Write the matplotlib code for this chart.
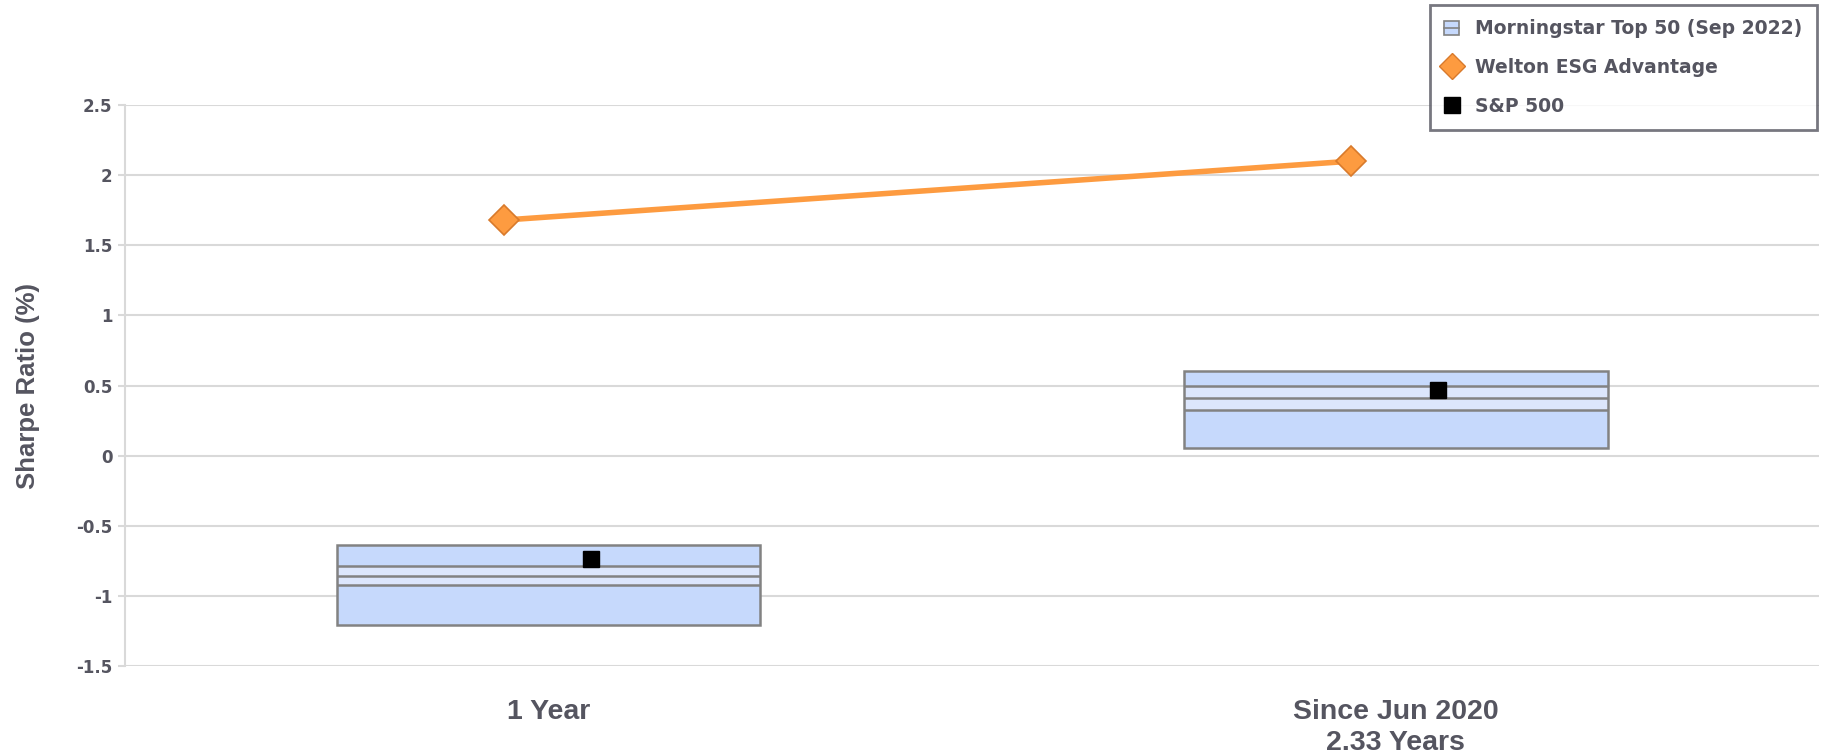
import matplotlib.pyplot as plt
from matplotlib.patches import Patch
from matplotlib.lines import Line2D
import numpy as np

# data
categories = ["1 Year", "Since Jun 2020\n2.33 Years"]
box_top = [-0.635, 0.605]
box_upper = [-0.79, 0.495]
box_median = [-0.857, 0.41]
box_lower = [-0.925, 0.325]
box_bottom = [-1.205, 0.055]
welton = [1.68, 2.10]
sp500 = [-0.735, 0.47]
yticks = [-1.5, -1, -0.5, 0, 0.5, 1, 1.5, 2, 2.5]

TEXT = "#555560"
BLUE = "#c6d9fc"
LIGHT = "#dce6fc"
EDGE = "#828282"
ORANGE = "#fd9b40"

fig = plt.figure(figsize=(18.22, 7.56), dpi=100)
ax = fig.add_axes([0.0686, 0.119, 0.930, 0.742])

x = np.arange(len(categories))
w = 0.5
top = np.array(box_top)
upper = np.array(box_upper)
lower = np.array(box_lower)
bottom = np.array(box_bottom)

ax.bar(x, lower - bottom, w, bottom=bottom, color=BLUE, edgecolor="none", zorder=2)
ax.bar(x, upper - lower, w, bottom=lower, color=LIGHT, edgecolor="none", zorder=2)
ax.bar(x, top - upper, w, bottom=upper, color=BLUE, edgecolor="none", zorder=2)
ax.bar(x, top - bottom, w, bottom=bottom, color="none", edgecolor=EDGE, lw=1.8, zorder=3)
for vals in (box_upper, box_median, box_lower):
    ax.hlines(vals, x - w / 2, x + w / 2, color=EDGE, lw=1.8, zorder=3)

ax.plot(x - 0.053, welton, color=ORANGE, lw=4, marker="D", markersize=15,
        markerfacecolor=ORANGE, markeredgecolor="#d87a2c", markeredgewidth=1.2, zorder=4)
ax.plot(x + 0.05, sp500, ls="none", marker="s", markersize=12,
        color="black", zorder=5)

ax.set_xlim(-0.5, 1.5)
ax.set_ylim(-1.5, 2.5)
ax.set_yticks(yticks)
ax.set_yticklabels([f"{t:g}" for t in yticks], fontsize=12, fontweight="bold",
                   color=TEXT, family="DejaVu Sans")
ax.grid(axis="y", color="#d9d9d9", lw=1.5, zorder=0)
ax.set_axisbelow(True)
ax.tick_params(axis="y", length=5, width=1.5, color="#d9d9d9", pad=4)
ax.tick_params(axis="x", length=0, pad=24)
ax.set_xticks(x)
ax.set_xticklabels(categories, fontsize=20.5, fontweight="bold", color=TEXT,
                   family="Liberation Sans", linespacing=1.22)
for s in ["top", "right", "bottom"]:
    ax.spines[s].set_visible(False)
ax.spines["left"].set_color("#d9d9d9")
ax.spines["left"].set_linewidth(1.5)
ax.set_ylabel("Sharpe Ratio (%)", fontsize=18.5, fontweight="bold", color=TEXT,
              family="Liberation Sans", labelpad=26)

handles = [
    (Patch(facecolor=BLUE, edgecolor=EDGE, lw=1.2),
     Line2D([], [], color=EDGE, lw=1.2)),
    Line2D([], [], ls="none", marker="D", markersize=13, markerfacecolor=ORANGE,
           markeredgecolor="#d87a2c"),
    Line2D([], [], ls="none", marker="s", markersize=12, color="black"),
]
labels = ["Morningstar Top 50 (Sep 2022)", "Welton ESG Advantage", "S&P 500"]
leg = fig.legend(handles, labels, loc="upper right", bbox_to_anchor=(0.997, 0.993),
                 frameon=True, fancybox=False, handlelength=0.8, handleheight=0.8,
                 handletextpad=0.85, labelspacing=1.05, borderpad=0.75,
                 borderaxespad=0,
                 prop={"family": "DejaVu Sans", "weight": "bold", "size": 13.5})
leg.get_frame().set_edgecolor("#555560")
leg.get_frame().set_linewidth(2)
for t in leg.get_texts():
    t.set_color(TEXT)

fig.savefig("out.png", dpi=100)
